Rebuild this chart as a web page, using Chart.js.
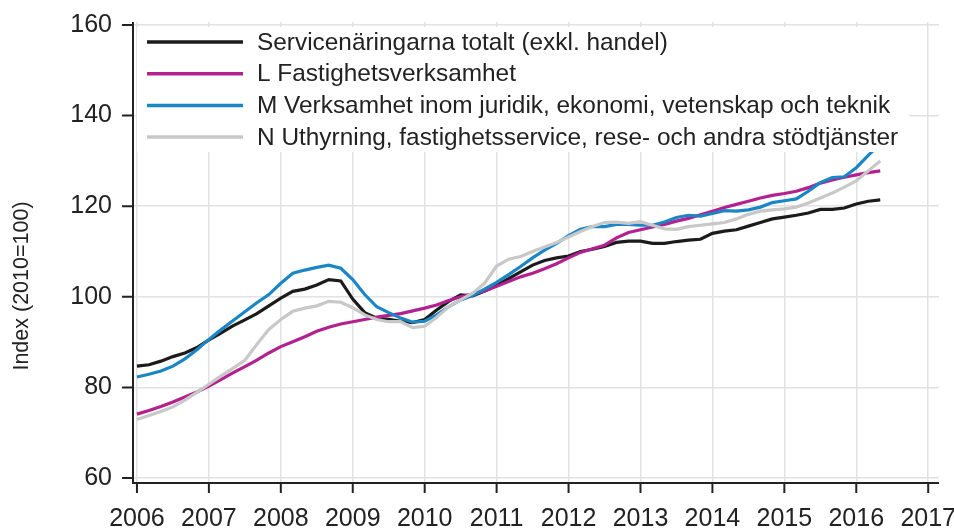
<!DOCTYPE html>
<html>
<head>
<meta charset="utf-8">
<script src="https://cdn.jsdelivr.net/npm/chart.js@4.4.1/dist/chart.umd.min.js"></script>
<style>
html, body { margin: 0; padding: 0; background: #fff; }
#wrap { position: relative; width: 954px; height: 528px; }
</style>
</head>
<body>
<div id="wrap"><canvas id="chart"></canvas></div>
<script>
const periods = [
    '2006-01','2006-03','2006-05','2006-07','2006-09','2006-11',
    '2007-01','2007-03','2007-05','2007-07','2007-09','2007-11',
    '2008-01','2008-03','2008-05','2008-07','2008-09','2008-11',
    '2009-01','2009-03','2009-05','2009-07','2009-09','2009-11',
    '2010-01','2010-03','2010-05','2010-07','2010-09','2010-11',
    '2011-01','2011-03','2011-05','2011-07','2011-09','2011-11',
    '2012-01','2012-03','2012-05','2012-07','2012-09','2012-11',
    '2013-01','2013-03','2013-05','2013-07','2013-09','2013-11',
    '2014-01','2014-03','2014-05','2014-07','2014-09','2014-11',
    '2015-01','2015-03','2015-05','2015-07','2015-09','2015-11',
    '2016-01','2016-03','2016-05'
];

const totalt = [
    84.7, 85.0, 85.8, 86.8, 87.6, 88.8,
    90.5, 92.0, 93.6, 94.9, 96.3, 98.0,
    99.7, 101.2, 101.7, 102.6, 103.8, 103.5,
    99.5, 96.5, 95.3, 95.0, 94.6, 94.3,
    95.0, 97.1, 99.0, 100.4, 100.2, 101.3,
    102.5, 104.0, 105.5, 107.0, 108.0, 108.6,
    109.0, 110.0, 110.5, 111.1, 112.0, 112.3,
    112.3, 111.8, 111.8, 112.2, 112.5, 112.7,
    114.0, 114.5, 114.8, 115.6, 116.4, 117.2,
    117.6, 118.0, 118.5, 119.3, 119.3, 119.6,
    120.5, 121.1, 121.4
];
const fastighet = [
    74.1, 74.9, 75.8, 76.8, 77.9, 79.0,
    80.3, 81.7, 83.2, 84.6, 86.0, 87.6,
    89.0, 90.1, 91.2, 92.4, 93.3, 94.0,
    94.5, 95.0, 95.5, 95.9, 96.3, 96.9,
    97.5, 98.2, 99.2, 100.0, 100.6, 101.3,
    102.3, 103.4, 104.4, 105.2, 106.2, 107.3,
    108.6, 109.8, 110.6, 111.4, 113.0, 114.2,
    114.8, 115.4, 116.0, 116.7, 117.3, 118.1,
    118.9, 119.7, 120.4, 121.1, 121.8, 122.4,
    122.8, 123.3, 124.1, 125.1, 125.8, 126.4,
    126.9, 127.4, 127.8
];
const juridik = [
    82.3, 82.9, 83.6, 84.7, 86.3, 88.3,
    90.6, 92.7, 94.7, 96.7, 98.7, 100.5,
    103.0, 105.2, 105.9, 106.5, 107.0, 106.3,
    103.8, 100.5, 97.8, 96.5, 95.3, 94.4,
    94.6, 96.0, 97.8, 99.3, 100.3, 101.7,
    103.2, 104.9, 106.7, 108.6, 110.3, 111.8,
    113.5, 114.9, 115.5, 115.5, 116.0, 116.0,
    115.8, 115.8, 116.5, 117.5, 118.0, 117.8,
    118.4, 119.0, 118.9, 119.2, 119.8, 120.8,
    121.2, 121.6, 123.3, 125.2, 126.3, 126.5,
    128.5, 131.2, 133.8
];
const uthyrning = [
    72.9, 73.8, 74.7, 75.7, 77.2, 78.9,
    80.7, 82.5, 84.2, 86.0, 89.5, 92.8,
    95.0, 96.8, 97.5, 98.0, 99.0, 98.8,
    97.6, 96.0, 95.0, 94.5, 94.5, 93.2,
    93.5, 95.5, 97.8, 99.3, 100.8, 103.0,
    106.8, 108.3, 108.9, 110.0, 111.0, 112.0,
    113.2, 114.4, 115.5, 116.4, 116.5, 116.2,
    116.6, 115.8, 115.0, 114.9, 115.5, 115.8,
    116.1, 116.4, 117.2, 118.2, 118.9, 119.2,
    119.4, 119.8, 120.7, 121.8, 122.9, 124.2,
    125.6, 127.8, 130.0
];

const seriesNames = [
    'Servicenäringarna totalt (exkl. handel)',
    'L Fastighetsverksamhet',
    'M Verksamhet inom juridik, ekonomi, vetenskap och teknik',
    'N Uthyrning, fastighetsservice, rese- och andra stödtjänster'
];
const seriesColors = ['#1b1b1b', '#b3208f', '#1b86c6', '#c8c8c8'];
const yearTicks = [2006, 2007, 2008, 2009, 2010, 2011, 2012, 2013, 2014, 2015, 2016, 2017];
const indexTicks = [60, 80, 100, 120, 140, 160];
const yTitle = 'Index (2010=100)';

const FONT = "'Liberation Sans', Arial, sans-serif";

function toYear(p) {
    const [yy, mm] = p.split('-').map(Number);
    return yy + (mm - 1) / 12;
}

function toPoints(values) {
    return values.map((v, i) => ({ x: toYear(periods[i]), y: v }));
}

// chart.js pads the area for the end labels, we want a fixed frame
function noEdgePadding(scale) {
    scale.paddingLeft = 0;
    scale.paddingRight = 0;
    scale.paddingTop = 0;
    scale.paddingBottom = 0;
}

const allSeries = [totalt, fastighet, juridik, uthyrning];

const frame = {
    id: 'frame',
    afterDatasetsDraw(chart) {
        const ctx = chart.ctx;
        ctx.save();
        // legend box sits on top of the plot
        ctx.fillStyle = '#fff';
        ctx.fillRect(137, 27, 772, 125);
        ctx.font = '24.4px ' + FONT;
        ctx.textBaseline = 'middle';
        ctx.textAlign = 'left';
        seriesNames.forEach((name, i) => {
            const yy = 42 + i * 31.7;
            ctx.strokeStyle = seriesColors[i];
            ctx.lineWidth = 3.5;
            ctx.beginPath();
            ctx.moveTo(147, yy);
            ctx.lineTo(243, yy);
            ctx.stroke();
            ctx.fillStyle = '#222';
            ctx.fillText(name, 257, yy + 1);
        });
        ctx.restore();
    },
    afterDraw(chart) {
        const ctx = chart.ctx;
        const { x, y } = chart.scales;
        const area = chart.chartArea;
        ctx.save();
        ctx.strokeStyle = '#222';
        ctx.lineWidth = 2;
        ctx.beginPath();
        ctx.moveTo(area.left, area.top);
        ctx.lineTo(area.left, area.bottom);
        ctx.lineTo(area.right, area.bottom);
        ctx.stroke();
        ctx.beginPath();
        indexTicks.forEach(v => {
            const py = y.getPixelForValue(v);
            ctx.moveTo(area.left - 11, py);
            ctx.lineTo(area.left, py);
        });
        yearTicks.forEach(v => {
            const px = x.getPixelForValue(v);
            ctx.moveTo(px, area.bottom);
            ctx.lineTo(px, area.bottom + 10);
        });
        ctx.stroke();

        ctx.translate(22, 286);
        ctx.rotate(-Math.PI / 2);
        ctx.font = '21.5px ' + FONT;
        ctx.fillStyle = '#222';
        ctx.textAlign = 'center';
        ctx.textBaseline = 'middle';
        ctx.fillText(yTitle, 0, 0);
        ctx.restore();
    }
};

const ctx = document.getElementById('chart').getContext('2d');
new Chart(ctx, {
    type: 'line',
    data: {
        datasets: allSeries.map((values, i) => ({
            label: seriesNames[i],
            data: toPoints(values),
            borderColor: seriesColors[i],
            borderWidth: 3.2,
            pointRadius: 0,
            tension: 0,
            fill: false,
            order: allSeries.length - i
        }))
    },
    options: {
        responsive: true,
        maintainAspectRatio: false,
        animation: false,
        layout: { padding: { top: 22, right: 15, left: 0, bottom: 0 } },
        scales: {
            x: {
                type: 'linear',
                min: 2005.945,
                max: 2017.15,
                afterFit(scale) { scale.height = 45; noEdgePadding(scale); },
                afterBuildTicks(scale) { scale.ticks = yearTicks.map(v => ({ value: v })); },
                grid: { color: '#e2e2e2', lineWidth: 1.5, drawTicks: false },
                border: { display: false },
                ticks: {
                    padding: 21,
                    color: '#222',
                    font: { family: FONT, size: 25 },
                    maxRotation: 0,
                    autoSkip: false,
                    callback: v => String(v)
                }
            },
            y: {
                min: 58.9,
                max: 160.66,
                afterFit(scale) { scale.width = 133; noEdgePadding(scale); },
                afterBuildTicks(scale) { scale.ticks = indexTicks.map(v => ({ value: v })); },
                grid: { color: '#e2e2e2', lineWidth: 1.5, drawTicks: false },
                border: { display: false },
                ticks: {
                    padding: 21,
                    color: '#222',
                    font: { family: FONT, size: 25 },
                    callback: v => String(v)
                }
            }
        },
        plugins: {
            legend: { display: false },
            tooltip: { enabled: false }
        }
    },
    plugins: [frame]
});
</script>
</body>
</html>
